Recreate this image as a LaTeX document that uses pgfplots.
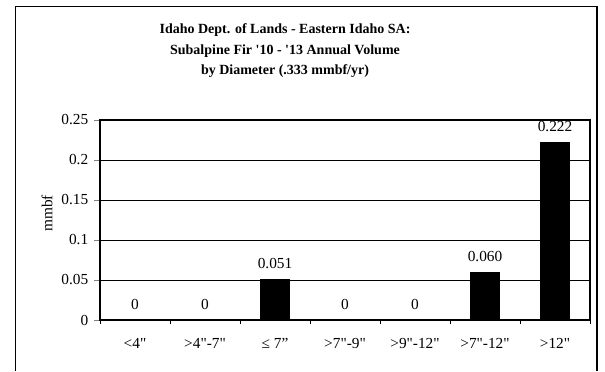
\documentclass[border=0pt]{standalone}
\usepackage{pgfplots}
\pgfplotsset{compat=1.18}
\usepackage{fontspec}
\setmainfont{Liberation Serif}[Ligatures=TeXOff]

\begin{document}
\begin{tikzpicture}[x=1pt,y=1pt]
\begin{axis}[
    at={(0,0)}, anchor=south west,
    scale only axis,
    width=367.5pt, height=150pt,
    xmin=-0.5, xmax=6.5,
    ymin=0, ymax=0.25,
    ytick={0,0.05,...,0.25},
    yticklabels={0,0.05,0.1,0.15,0.2,0.25},
    ymajorgrids,
    grid style={black, line width=0.6pt},
    axis line style={black, line width=0.8pt},
    xtick={0,...,6},
    xticklabels={<4",>4"-7",{≤ 7”},>7"-9",>9"-12",>7"-12",>12"},
    minor xtick={-0.5,0.5,...,6.5},
    major x tick style={draw=none},
    minor x tick style={black, line width=0.6pt},
    minor tick length=3pt,
    major tick length=4.3pt,
    tick align=outside,
    xtick pos=bottom, ytick pos=left,
    xticklabel style={yshift=-6pt},
    yticklabel style={xshift=-1pt},
    tick label style={font=\fontsize{11.5}{13}\selectfont},
    ybar, bar width=21.8pt,
    nodes near coords,
    point meta=explicit symbolic,
    nodes near coords style={font=\fontsize{11.5}{13}\selectfont, yshift=4.5pt},
    clip=false,
]
\addplot[fill=black, draw=black] table[meta=lab] {
x y lab
0 0 0
1 0 0
2 0.051 0.051
3 0 0
4 0 0
5 0.060 0.060
6 0.222 0.222
};
\end{axis}
\node[rotate=90, anchor=center, font=\fontsize{11.5}{13}\selectfont] at (-39.75pt,79.9pt) {mmbf};
\draw[black, line width=0.8pt] (-63.2pt,-38.25pt) -- (-63.2pt,235.3pt) -- (372.75pt,235.3pt) -- (372.75pt,-38.25pt);
\begin{scope}[every node/.style={anchor=base, inner sep=0pt, font=\fontsize{10.5}{12}\selectfont\bfseries}]
\node at (138.75pt,215pt) {Idaho Dept. of Lands - Eastern Idaho SA:};
\node at (138.75pt,199.3pt) {Subalpine Fir '10 - '13 Annual Volume};
\node at (138.75pt,184.3pt) {by Diameter (.333 mmbf/yr)};
\end{scope}
\path (-75pt,-38.25pt) rectangle (378.75pt,240pt);
\end{tikzpicture}
\end{document}
